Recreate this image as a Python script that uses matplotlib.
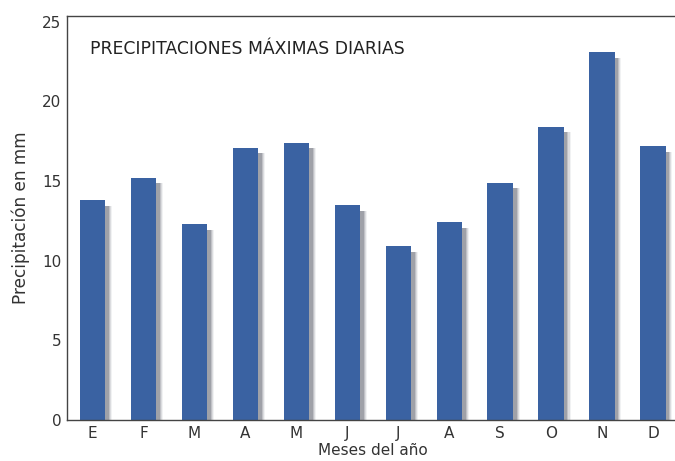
import numpy as np
import matplotlib
matplotlib.use("Agg")
import matplotlib.pyplot as plt

# datos
meses = ["E", "F", "M", "A", "M", "J", "J", "A", "S", "O", "N", "D"]
precip = [13.8, 15.2, 12.3, 17.1, 17.4, 13.5, 10.9, 12.4, 14.9, 18.4, 23.1, 17.2]
yticks = [0, 5, 10, 15, 20, 25]

plt.rcParams['font.family'] = ['DejaVu Sans']
color_barra = "#3a62a2"
color_texto = "#333333"

fig = plt.figure(figsize=(6.75, 4.61), dpi=100)
ax = fig.add_axes([0.0993, 0.0889, 0.906, 0.876])

x = np.arange(len(meses))
# sombra difusa a la derecha de cada barra
for dx, a in [(0.13, 0.06), (0.11, 0.10), (0.09, 0.14), (0.07, 0.2)]:
    ax.bar(x + dx, np.array(precip) - 0.35, width=0.5, color="#1c2233",
           alpha=a, linewidth=0, zorder=1)
ax.bar(x, precip, width=0.5, color=color_barra, linewidth=0, zorder=2)

ax.set_xlim(-0.5, 11.5)
ax.set_ylim(0, 25.35)
ax.set_xticks(x)
ax.set_xticklabels(meses, fontsize=11, color=color_texto)
ax.set_yticks(yticks)
ax.set_yticklabels([str(v) for v in yticks], fontsize=11, color=color_texto)
ax.tick_params(length=0, pad=4)

for s in ["left", "bottom", "top"]:
    ax.spines[s].set_color("#444444")
    ax.spines[s].set_linewidth(1.0)
ax.spines["right"].set_visible(False)

ax.set_xlabel("Meses del año", fontsize=11, color=color_texto, labelpad=2)
ax.set_ylabel("Precipitación en mm", fontsize=12.2, color=color_texto, labelpad=9)

ax.text(0.037, 0.918, "PRECIPITACIONES MÁXIMAS DIARIAS", transform=ax.transAxes,
        fontsize=12.4, color="#222222", va="center", ha="left")

fig.savefig("out.png", dpi=100)
